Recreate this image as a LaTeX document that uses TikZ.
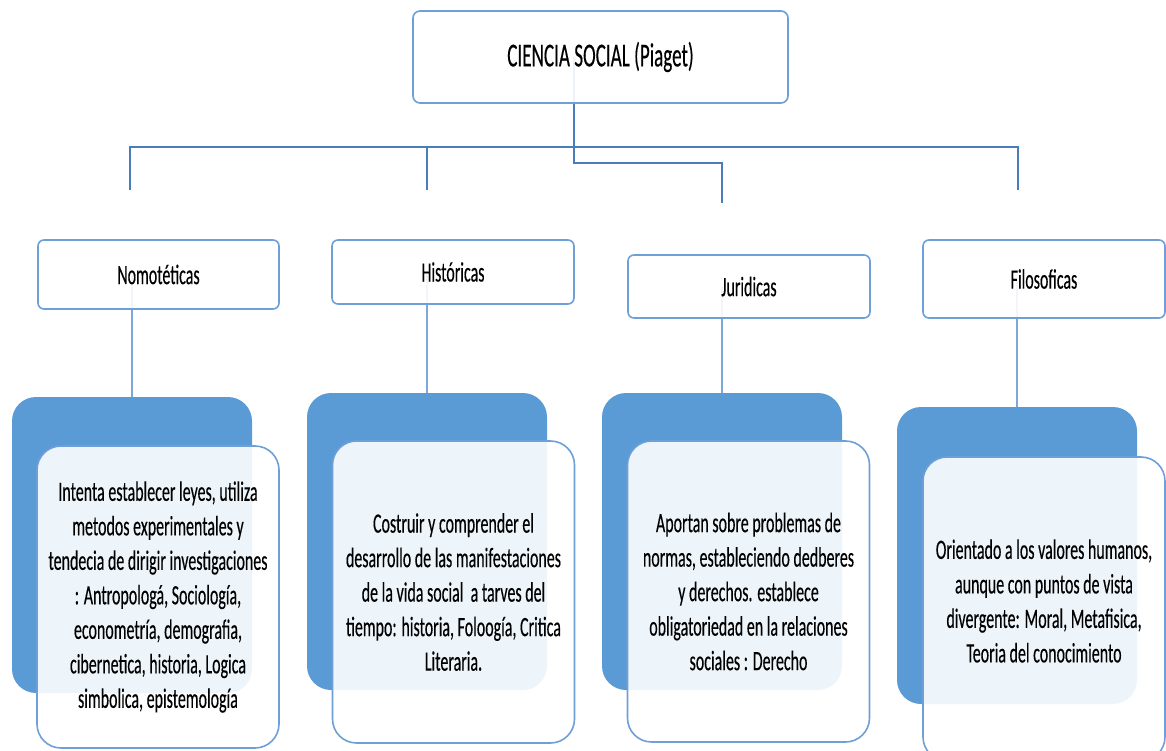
\documentclass[tikz,border=0pt]{standalone}
\usepackage{fontspec}
\setmainfont{Carlito}[FakeStretch=0.57,FakeBold=0.3]
\usetikzlibrary{backgrounds}
\definecolor{dline}{HTML}{4A7EBB}
\definecolor{lline}{HTML}{7DA7D9}
\definecolor{bord}{HTML}{6F9FD8}
\definecolor{accent}{HTML}{5B9BD5}
\tikzset{
  titlebox/.style={draw=bord, line width=1.6pt, rounded corners=7pt, fill=white, fill opacity=0.9, text opacity=1, inner sep=0pt, font=\fontsize{33.5}{40}\selectfont},
  catbox/.style={draw=bord, line width=1.6pt, rounded corners=6pt, fill=white, fill opacity=0.9, text opacity=1, inner sep=0pt, font=\fontsize{28}{34}\selectfont},
  bluebox/.style={fill=accent, draw=none, rounded corners=24pt, minimum width=240pt, inner sep=0pt},
  descbox/.style={draw=bord, line width=1.6pt, rounded corners=24pt, fill=white, fill opacity=0.9, text opacity=1, inner sep=0pt, minimum width=242pt, align=center, font=\fontsize{28}{34.5}\selectfont},
  desctext/.style={inner sep=0pt, align=center, font=\fontsize{28}{34.5}\selectfont},
  darkline/.style={draw=dline, line width=2pt},
  lightline/.style={draw=lline, line width=2pt}
}
\begin{document}
\begin{tikzpicture}[x=1pt,y=-1pt]
\useasboundingbox (0,0) rectangle (1166,751);
% title
\node[titlebox, minimum width=375pt, minimum height=92pt] (title) at (600.5,57) {CIENCIA SOCIAL (Piaget)};
% category boxes
\node[catbox, minimum width=241pt, minimum height=69pt] (nomo) at (158.5,274.5) {Nomotéticas};
\node[catbox, minimum width=242pt, minimum height=64pt] (hist) at (453,272) {Históricas};
\node[catbox, minimum width=242pt, minimum height=63pt] (jur) at (749,286.5) {Juridicas};
\node[catbox, minimum width=242pt, minimum height=78pt] (filo) at (1044,279) {Filosoficas};
% blue back boxes
\node[bluebox, minimum height=296pt] (bn) at (132,545) {};
\node[bluebox, minimum height=297pt] (bh) at (427,541.5) {};
\node[bluebox, minimum height=297pt] (bj) at (722,541.5) {};
\node[bluebox, minimum height=297pt] (bf) at (1017,555.5) {};
% description boxes
\node[descbox, minimum height=302pt] (dn) at (158,597) {Intenta establecer leyes, utiliza\\metodos experimentales y\\tendecia de dirigir investigaciones\\: Antropologá, Sociología,\\econometría, demografia,\\cibernetica, historia, Logica\\simbolica, epistemología};
\node[descbox, minimum height=302pt] (dh) at (453.5,592) {Costruir y comprender el\\desarrollo de las manifestaciones\\de la vida social\ \ a tarves del\\tiempo: historia, Foloogía, Critica\\Literaria.};
\node[descbox, minimum height=301pt] (dj) at (748.5,591.5) {Aportan sobre problemas de\\normas, estableciendo dedberes\\y derechos. establece\\obligatoriedad en la relaciones\\sociales : Derecho};
\node[descbox, minimum height=304pt] (df) at (1044,609) {};
\node[desctext] (dft) at (1044,601) {Orientado a los valores humanos,\\aunque con puntos de vista\\divergente: Moral, Metafisica,\\Teoria del conocimiento};
% connector coordinates
\coordinate (ts) at (574,57);
\coordinate (b1) at (130,147);
\coordinate (b2) at (427,147);
\coordinate (b4) at (1018,147);
\coordinate (e1) at (130,190);
\coordinate (e2) at (427,190);
\coordinate (e4) at (1018,190);
\coordinate (jk) at (722,163);
\coordinate (e3) at (722,203);
\begin{pgfonlayer}{background}
\draw[darkline] (e1) -- (b1) -- (b4) -- (e4);
\draw[darkline] (b2) -- (e2);
\draw[darkline] (ts) |- (jk) -- (e3);
\draw[lightline] (bn.north |- nomo.center) -- (bn.north);
\draw[lightline] (bh.north |- hist.center) -- (bh.north);
\draw[lightline] (bj.north |- jur.center) -- (bj.north);
\draw[lightline] (bf.north |- filo.center) -- (bf.north);
\end{pgfonlayer}
\end{tikzpicture}
\end{document}
